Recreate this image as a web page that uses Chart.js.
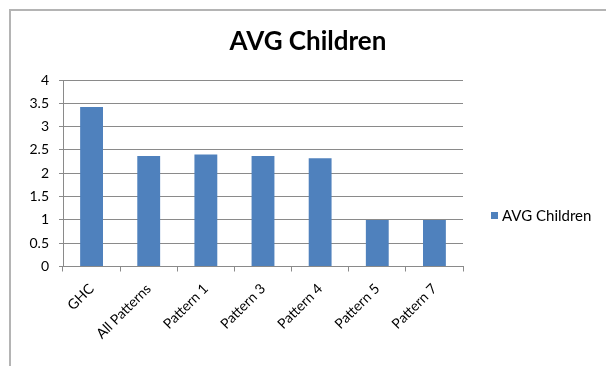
<!DOCTYPE html>
<html>
<head>
<meta charset="utf-8">
<style>
  html, body { margin: 0; padding: 0; background: #fff; }
  #wrap { position: relative; width: 606px; height: 366px; }
</style>
<script src="https://cdn.jsdelivr.net/npm/chart.js@4/dist/chart.umd.min.js"></script>
</head>
<body>
<div id="wrap"><canvas id="c" width="606" height="366"></canvas></div>
<script>
// Average number of children per group
const categories = ['GHC', 'All Patterns', 'Pattern 1', 'Pattern 3', 'Pattern 4', 'Pattern 5', 'Pattern 7'];
const avgChildren = [3.42, 2.37, 2.40, 2.37, 2.32, 1.0, 1.0];
const yTickLabels = ['0', '0.5', '1', '1.5', '2', '2.5', '3', '3.5', '4'];
const seriesName = 'AVG Children';
const chartTitle = 'AVG Children';

const FONT = 'Lato, "Liberation Sans", sans-serif';
const BAR = '#4F81BD';
const GRID = '#8a8a8a';

// Outer frame, title and side legend
const decorations = {
  id: 'decorations',
  afterDraw(chart) {
    const ctx = chart.ctx;
    ctx.save();
    ctx.strokeStyle = '#b4b4b4';
    ctx.lineWidth = 2;
    ctx.beginPath();
    ctx.moveTo(10, 366);
    ctx.lineTo(10, 10);
    ctx.lineTo(606, 10);
    ctx.stroke();

    ctx.fillStyle = '#000';
    ctx.font = 'bold 26px ' + FONT;
    ctx.textAlign = 'center';
    ctx.textBaseline = 'middle';
    ctx.fillText(chartTitle, 308, 42);

    const ds = chart.data.datasets[0];
    ctx.fillStyle = ds.backgroundColor;
    ctx.fillRect(491, 212, 7, 7);
    ctx.fillStyle = '#000';
    ctx.font = '15px ' + FONT;
    ctx.textAlign = 'left';
    ctx.fillText(ds.label, 502, 216);
    ctx.restore();
  }
};

new Chart(document.getElementById('c'), {
  type: 'bar',
  data: {
    labels: categories,
    datasets: [{
      label: seriesName,
      data: avgChildren,
      backgroundColor: BAR,
      borderWidth: 0,
      categoryPercentage: 1.0,
      barPercentage: 0.4
    }]
  },
  options: {
    responsive: false,
    animation: false,
    devicePixelRatio: 1,
    layout: { padding: { top: 80, right: 143, left: 0, bottom: 0 } },
    plugins: {
      legend: { display: false },
      title: { display: false },
      tooltip: { enabled: false }
    },
    scales: {
      x: {
        grid: { drawOnChartArea: false, drawTicks: true, tickLength: 5, color: GRID },
        border: { color: GRID, width: 1 },
        ticks: {
          color: '#000',
          font: { family: FONT, size: 14 },
          maxRotation: 45, minRotation: 45,
          padding: 9,
          autoSkip: false
        },
        afterFit(scale) { scale.height = 99.5; }
      },
      y: {
        min: 0, max: 4,
        grid: { color: GRID, tickLength: 4 },
        border: { color: GRID, width: 1 },
        ticks: {
          stepSize: 0.5,
          color: '#000',
          font: { family: FONT, size: 14 },
          padding: 10,
          callback: (v, i) => yTickLabels[i]
        },
        afterFit(scale) { scale.width = 63; }
      }
    }
  },
  plugins: [decorations]
});
</script>
</body>
</html>
